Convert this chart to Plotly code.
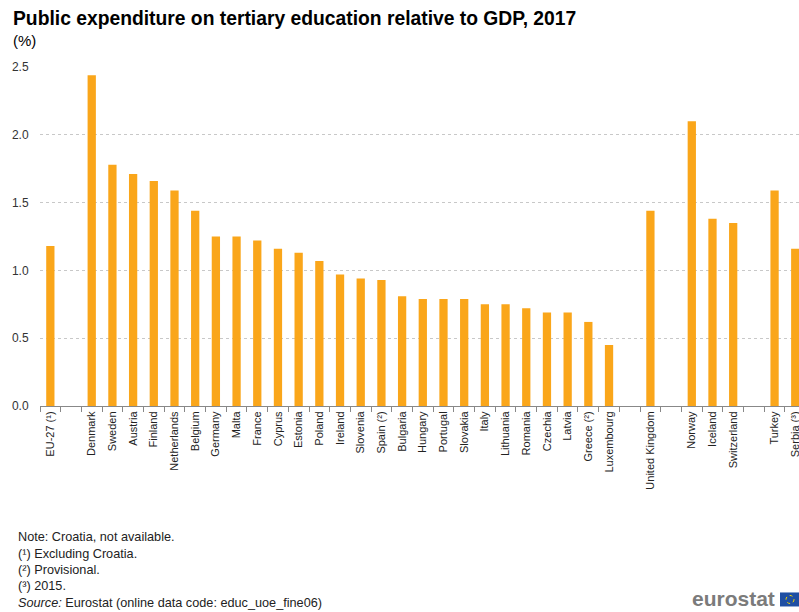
import plotly.graph_objects as go

# ---- data ----
eu_labels = ["EU-27 (¹)"]
eu_values = [1.18]

member_labels = ["Denmark", "Sweden", "Austria", "Finland", "Netherlands", "Belgium",
                 "Germany", "Malta", "France", "Cyprus", "Estonia", "Poland", "Ireland",
                 "Slovenia", "Spain (²)", "Bulgaria", "Hungary", "Portugal", "Slovakia",
                 "Italy", "Lithuania", "Romania", "Czechia", "Latvia", "Greece (²)",
                 "Luxembourg"]
member_values = [2.44, 1.78, 1.71, 1.66, 1.59, 1.44,
                 1.25, 1.25, 1.22, 1.16, 1.13, 1.07, 0.97,
                 0.94, 0.93, 0.81, 0.79, 0.79, 0.79,
                 0.75, 0.75, 0.72, 0.69, 0.69, 0.62,
                 0.45]

uk_labels = ["United Kingdom"]
uk_values = [1.44]

efta_labels = ["Norway", "Iceland", "Switzerland"]
efta_values = [2.10, 1.38, 1.35]

cand_labels = ["Turkey", "Serbia (³)"]
cand_values = [1.59, 1.16]

groups = [(eu_labels, eu_values), (member_labels, member_values), (uk_labels, uk_values),
          (efta_labels, efta_values), (cand_labels, cand_values)]

# build category list with blank spacer categories between groups
cats, vals = [], []
for gi, (labs, vs) in enumerate(groups):
    if gi > 0:
        cats.append(" " * gi)
        vals.append(None)
    cats.extend(labs)
    vals.extend(vs)

W, H = 799, 612
PL, PT, PB, PR = 40, 67, 405.7, 799   # plot-area edges in window pixels
ML, MT = PL, PT
MB = H - PB
MR = W - PR
plot_h = H - MT - MB
plot_w = W - ML - MR

def px(x):
    return (x - ML) / plot_w

def py(y):
    return (H - MB - y) / plot_h

fig = go.Figure()
fig.add_trace(go.Bar(
    x=cats, y=vals,
    marker=dict(color="#FAA61A", line=dict(width=0)),
    width=0.4,
    hoverinfo="x+y",
))

font_family = "Liberation Sans, Arial, sans-serif"

fig.update_layout(
    width=W, height=H,
    margin=dict(l=ML, r=MR, t=MT, b=MB, autoexpand=False),
    paper_bgcolor="white", plot_bgcolor="white",
    showlegend=False,
    font=dict(family=font_family, size=12, color="#333333"),
)

n = len(cats)
slot = 20.67
fig.update_xaxes(
    type="category",
    categoryorder="array", categoryarray=cats,
    range=[-0.5, n - 0.5 - (805.6 - PR) / slot],
    tickson="boundaries",
    ticks="outside", ticklen=5, tickcolor="#888888", tickwidth=1,
    showline=True, linecolor="#888888", linewidth=1,
    showgrid=False,
    tickangle=-90,
    tickfont=dict(size=11, color="#222222"),
    automargin=False,
)
fig.update_yaxes(
    range=[0, 2.5], dtick=0.5, tickformat=".1f",
    showgrid=True, gridcolor="#c8c8c8", griddash="dot", gridwidth=1,
    zeroline=False, showline=False,
    ticks="outside", ticklen=8, tickcolor="rgba(0,0,0,0)",
    tickfont=dict(size=12, color="#333333"),
    automargin=False,
)

annots = [
    dict(text="<b>Public expenditure on tertiary education relative to GDP, 2017</b>",
         x=px(11), y=py(19), size=19.3, color="#000000"),
    dict(text="(%)", x=px(11), y=py(41), size=15, color="#000000"),
    dict(text="Note: Croatia, not available.", x=px(16), y=py(537), size=12.7, color="#222222"),
    dict(text="(¹) Excluding Croatia.", x=px(16), y=py(554), size=12.7, color="#222222"),
    dict(text="(²) Provisional.", x=px(16), y=py(570), size=12.7, color="#222222"),
    dict(text="(³) 2015.", x=px(16), y=py(586), size=12.7, color="#222222"),
    dict(text="<i>Source:</i> Eurostat (online data code: educ_uoe_fine06)",
         x=px(16), y=py(603), size=12.7, color="#222222"),
]
for a in annots:
    fig.add_annotation(text=a["text"], x=a["x"], y=a["y"], xref="paper", yref="paper",
                       xanchor="left", yanchor="middle", showarrow=False,
                       font=dict(family=font_family, size=a["size"], color=a["color"]))

# eurostat logo
fig.add_annotation(text="<b>eurostat</b>", x=px(777), y=py(598), xref="paper", yref="paper",
                   xanchor="right", yanchor="middle", showarrow=False,
                   font=dict(family=font_family, size=21, color="#7b7b7b"))
fig.add_shape(type="rect", xref="paper", yref="paper",
              x0=px(780), x1=px(800), y0=py(592), y1=py(606),
              fillcolor="#1f4fa3", line=dict(width=0))
fig.add_shape(type="circle", xref="paper", yref="paper",
              x0=px(786), x1=px(794), y0=py(595), y1=py(603),
              line=dict(color="#f5d800", width=1, dash="dot"))

fig.write_html("out.html",
               config={"displayModeBar": False},
               post_script="document.body.style.margin='0';document.body.style.overflow='hidden';")
